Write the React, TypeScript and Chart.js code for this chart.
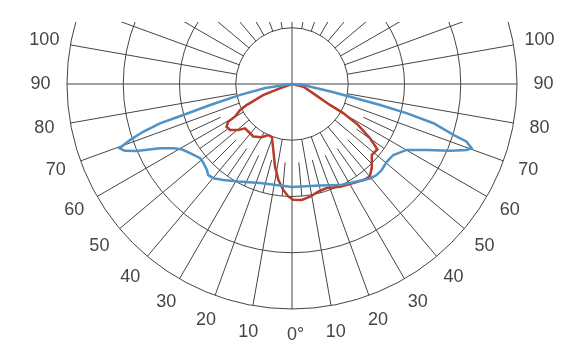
import React, { useEffect, useRef } from "react";
import { Chart, registerables } from "chart.js";

Chart.register(...registerables);

// Rings of the polar grid (intensity units) and angle labels
const ringValues = [100, 200, 300, 400];
const labelAngles = [-100, -90, -80, -70, -60, -50, -40, -30, -20, -10, 0, 10, 20, 30, 40, 50, 60, 70, 80, 90, 100];
const labelTexts = ["100", "90", "80", "70", "60", "50", "40", "30", "20", "10", "0°", "10", "20", "30", "40", "50", "60", "70", "80", "90", "100"];

// Blue curve (angle from nadir in degrees, intensity)
const blueAngles = [
  -90, -81.6, -78.1, -75.6, -74.1, -73.4, -72.2, -70.9, -69.8, -69.5, -68.2, -66.7, -64.0, -61.6, -59.4,
  -55.8, -51.1, -48.2, -44.8, -42.6, -39.8, -35.6, -28.8, -17.9, 0, 15.4, 25.4, 33.5, 39.6, 42.9, 46.2,
  50.6, 55.0, 60.1, 63.9, 67.1, 69.3, 70.3, 71.7, 72.5, 74.5, 75.7, 76.6, 77.5, 79, 85, 90,
];
const blueValues = [
  0, 48, 94, 150, 201, 245, 278, 305, 323, 327, 320, 301, 261, 240, 228,
  219, 210, 211, 215, 220, 218, 210, 198, 185, 183, 187, 199, 208, 218, 221, 221,
  218, 220, 235, 267, 305, 332, 339, 327, 301, 261, 210, 161, 111, 70, 20, 0,
];

// Red curve
const redAngles = [
  -90, -70.3, -69, -65.1, -63.4, -60.2, -59.4, -56.8, -53.4, -49.4, -46.7, -40.4, -36.3, -29.6, -24.9,
  -20.7, -15.8, -11.6, -8.1, -4.7, -1.9, 0.6, 4.8, 9.1, 13.7, 18.4, 25.1, 31.7, 36.6, 40.1, 43.4, 48.3,
  52.1, 52.8, 55.2, 58.2, 60.4, 61.1, 64.4, 76.6, 90,
];
const redValues = [
  0, 23, 55, 89, 103, 117, 132, 139, 137, 126, 115, 115, 116, 109, 100,
  101, 122, 150, 172, 189, 200, 206, 207, 203, 197, 195, 202, 207, 213, 215, 206, 190,
  191, 189, 169, 138, 104, 77, 49, 21, 0,
];

const toXY = (angles: number[], values: number[]) =>
  angles.map((a, i) => {
    const rad = (a * Math.PI) / 180;
    return { x: values[i] * Math.sin(rad), y: -values[i] * Math.cos(rad) };
  });

const gridPlugin = {
  id: "polarGrid",
  beforeDatasetsDraw(chart: any) {
    const { ctx, chartArea, scales } = chart;
    const xs = scales.x;
    const ys = scales.y;
    const pt = (v: number, a: number) => {
      const rad = (a * Math.PI) / 180;
      return [xs.getPixelForValue(v * Math.sin(rad)), ys.getPixelForValue(-v * Math.cos(rad))];
    };
    const cx = xs.getPixelForValue(0);
    const cy = ys.getPixelForValue(0);
    ctx.save();
    ctx.beginPath();
    ctx.rect(chartArea.left, chartArea.top, chartArea.right - chartArea.left, chartArea.bottom - chartArea.top);
    ctx.clip();
    ctx.strokeStyle = "#454545";
    ctx.lineWidth = 1;
    ringValues.forEach((r) => {
      const rad = xs.getPixelForValue(r) - cx;
      ctx.beginPath();
      ctx.arc(cx, cy, rad, 0, Math.PI * 2);
      ctx.stroke();
    });
    const inner = ringValues[0];
    const outer = ringValues[ringValues.length - 1];
    for (let a = -170; a <= 180; a += 10) {
      const full = a % 90 === 0;
      const [x1, y1] = pt(full ? 0 : inner, a);
      const [x2, y2] = pt(outer, a);
      ctx.beginPath();
      ctx.moveTo(x1, y1);
      ctx.lineTo(x2, y2);
      ctx.stroke();
    }
    for (let a = -65; a <= 65; a += 10) {
      const [x1, y1] = pt(140, a);
      const [x2, y2] = pt(ringValues[1], a);
      ctx.beginPath();
      ctx.moveTo(x1, y1);
      ctx.lineTo(x2, y2);
      ctx.stroke();
    }
    ctx.restore();
  },
  afterDraw(chart: any) {
    const { ctx, scales } = chart;
    const xs = scales.x;
    const ys = scales.y;
    ctx.save();
    ctx.fillStyle = "#454545";
    ctx.font = "18px 'Liberation Sans', Arial, sans-serif";
    ctx.textBaseline = "middle";
    const labelR = 447;
    labelAngles.forEach((a, i) => {
      const rad = (a * Math.PI) / 180;
      const px = xs.getPixelForValue(labelR * Math.sin(rad));
      const py = ys.getPixelForValue(-labelR * Math.cos(rad));
      const t = labelTexts[i];
      if (a === 0) {
        ctx.textAlign = "left";
        ctx.fillText(t, px - ctx.measureText("0").width / 2, py);
      } else {
        ctx.textAlign = "center";
        ctx.fillText(t, px, py);
      }
    });
    ctx.restore();
  },
};

export default function App() {
  const ref = useRef<HTMLCanvasElement>(null);
  useEffect(() => {
    if (!ref.current) return;
    const chart = new Chart(ref.current, {
      type: "scatter",
      data: {
        datasets: [
          {
            data: toXY(blueAngles, blueValues),
            showLine: true,
            borderColor: "#4f93c6",
            borderWidth: 2.5,
            pointRadius: 0,
            tension: 0,
          },
          {
            data: toXY(redAngles, redValues),
            showLine: true,
            borderColor: "#b83a28",
            borderWidth: 2.5,
            pointRadius: 0,
            tension: 0,
          },
        ],
      },
      options: {
        animation: false,
        responsive: true,
        maintainAspectRatio: false,
        layout: { padding: { top: 22, left: 0, right: 0, bottom: 0 } },
        plugins: { legend: { display: false }, tooltip: { enabled: false } },
        scales: {
          x: { type: "linear", display: false, min: -519.1, max: 513.8 },
          y: { type: "linear", display: false, min: -474.7, max: 110.2 },
        },
      },
      plugins: [gridPlugin],
    });
    return () => chart.destroy();
  }, []);
  return (
    <div style={{ position: "fixed", left: 0, top: 0, width: 581, height: 351, background: "#fff" }}>
      <canvas ref={ref} />
    </div>
  );
}
